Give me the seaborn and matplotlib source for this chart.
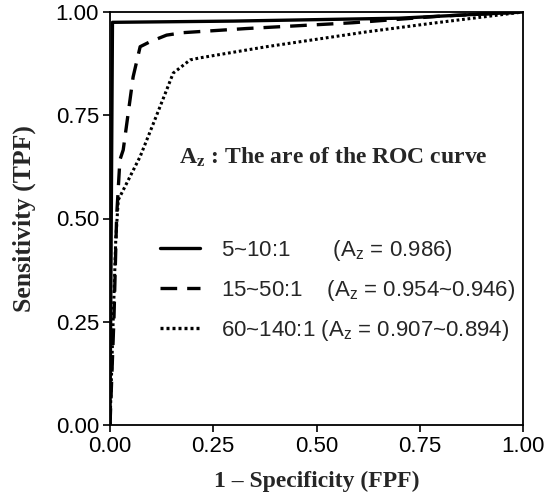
import matplotlib
matplotlib.use("Agg")
import matplotlib.pyplot as plt
import seaborn as sns
import pandas as pd

# ---- data ----
solid_x = [0.0, 0.006, 0.30, 0.70, 1.0]
solid_y = [0.0, 0.975, 0.978, 0.985, 1.0]

dash_x = [0.0, 0.0097, 0.016, 0.024, 0.032, 0.056, 0.073, 0.097, 0.137, 0.177, 0.331, 0.588, 0.80, 1.0]
dash_y = [0.0, 0.262, 0.504, 0.642, 0.666, 0.843, 0.916, 0.928, 0.944, 0.950, 0.960, 0.974, 0.990, 1.0]

dot_x = [0.0, 0.006, 0.014, 0.020, 0.073, 0.105, 0.137, 0.153, 0.194, 0.218, 0.331, 0.379, 0.622, 0.782, 1.0]
dot_y = [0.0, 0.20, 0.45, 0.545, 0.650, 0.730, 0.811, 0.852, 0.884, 0.889, 0.908, 0.916, 0.952, 0.973, 1.0]

series_labels = ["5~10:1", "15~50:1", "60~140:1"]
az_labels = ["(A$_\\mathregular{z}$ = 0.986)",
             "(A$_\\mathregular{z}$ = 0.954~0.946)",
             "(A$_\\mathregular{z}$ = 0.907~0.894)"]
ticks = [0.0, 0.25, 0.5, 0.75, 1.0]
tick_labels = ["0.00", "0.25", "0.50", "0.75", "1.00"]

sns.set_theme(style="white")
plt.rcParams['font.family'] = ['Liberation Sans', 'DejaVu Sans']
plt.rcParams['mathtext.fontset'] = 'custom'
plt.rcParams['mathtext.rm'] = 'Liberation Sans'

fig = plt.figure(figsize=(5.51, 5.0), dpi=100)
ax = fig.add_axes([110/551, 1-425/500, 413/551, 413/500])

full_labels = [
    series_labels[0] + "       " + az_labels[0],
    series_labels[1] + "    " + az_labels[1],
    series_labels[2] + " " + az_labels[2],
]

sns.lineplot(x=solid_x, y=solid_y, ax=ax, color="black", lw=2.4,
             label=full_labels[0], sort=False)
sns.lineplot(x=dash_x, y=dash_y, ax=ax, color="black", lw=2.4,
             label=full_labels[1], sort=False)
sns.lineplot(x=dot_x, y=dot_y, ax=ax, color="black", lw=2.2,
             label=full_labels[2], sort=False)
lines = ax.get_lines()
lines[1].set_linestyle((0, (5, 3)))
lines[2].set_linestyle((0, (0.9, 0.9)))

ax.set_xlim(0, 1)
ax.set_ylim(0, 1)
ax.set_xticks(ticks)
ax.set_xticklabels(tick_labels, fontsize=16)
ax.set_yticks(ticks)
ax.set_yticklabels(tick_labels, fontsize=16)
ax.tick_params(axis='both', direction='out', length=5, width=1.2,
               bottom=True, left=True, top=False, right=False, colors='black', pad=3)
for s in ax.spines.values():
    s.set_visible(True)
    s.set_color('black')
    s.set_linewidth(1.3)

serif = ['Liberation Serif', 'DejaVu Serif']
ax.set_xlabel("1 – Specificity (FPF)", fontsize=17, fontweight='bold', family=serif, labelpad=10)
ax.set_ylabel("Sensitivity (TPF)", fontsize=18.5, fontweight='bold', family=serif, labelpad=14)

ax.text(0.54, 0.648, "A$_\\mathbf{z}$ : The are of the ROC curve", transform=ax.transAxes,
        ha='center', va='center', fontsize=17, fontweight='bold', family=serif,
        math_fontfamily='stix')

leg = ax.legend(loc='center left', bbox_to_anchor=(0.12, 0.326), frameon=False,
                fontsize=16, handlelength=1.8, handletextpad=0.95, labelspacing=0.68,
                borderpad=0, borderaxespad=0)
for h in leg.get_lines():
    h.set_linewidth(2.4)

fig.savefig("out.png", dpi=100)
